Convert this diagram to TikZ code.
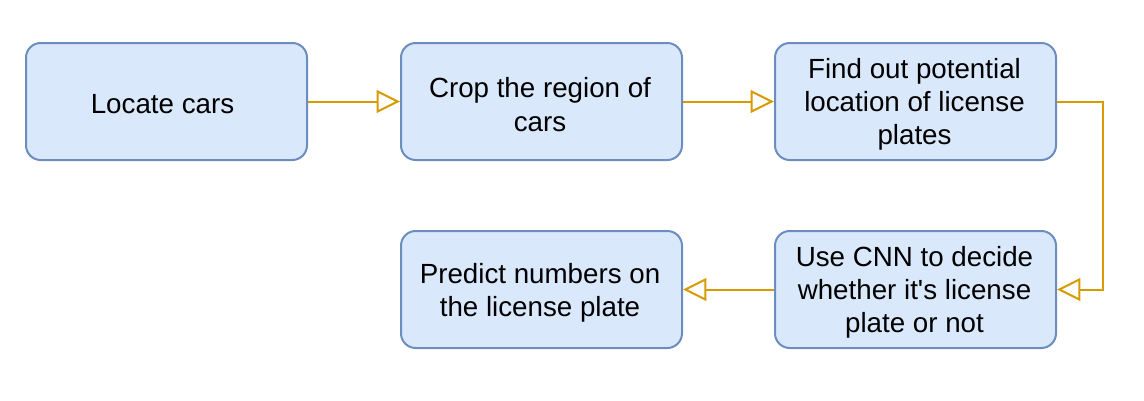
\documentclass[tikz,border=0pt]{standalone}
\usepackage{fontspec}
\setmainfont{Liberation Sans}[Ligatures=TeXOff]
\usetikzlibrary{arrows.meta}
\definecolor{boxfill}{HTML}{DAE8FC}
\definecolor{boxline}{HTML}{6C8EBF}
\definecolor{arrowc}{HTML}{D79B00}
\begin{document}
\begin{tikzpicture}[x=0.75pt,y=-0.75pt,
  stepbox/.style={draw=boxline,fill=boxfill,line width=1.5pt,rounded corners=11pt,
    minimum width=281*0.75pt,minimum height=117*0.75pt,inner sep=0pt},
  txt/.style={inner sep=0pt,align=center,font=\fontsize{20.8pt}{24.9pt}\selectfont,text=black},
  flow/.style={draw=arrowc,line width=1.5pt,
    -{Triangle[open,length=17.5pt,width=17pt,line width=1.5pt]}}]
\useasboundingbox (0,0) rectangle (1144,400);
\node[stepbox] (a) at (166.5,101.5) {};
\node[stepbox] (b) at (541.5,101.5) {};
\node[stepbox] (c) at (915.5,101.5) {};
\node[stepbox] (d) at (915.5,289.5) {};
\node[stepbox] (e) at (541.5,289.5) {};
\node[txt] (ta) at ([shift={(-4,3)}]a.center) {Locate cars};
\node[txt] (tb) at ([shift={(-1.5,3)}]b.center) {Crop the region of\\cars};
\node[txt] (tc) at ([shift={(-1,3)}]c.center) {Find out potential\\location of license\\plates};
\node[txt] (td) at ([shift={(-1,3)}]d.center) {Use CNN to decide\\whether it's license\\plate or not};
\node[txt] (te) at ([shift={(-1.5,3)}]e.center) {Predict numbers on\\the license plate};
\coordinate (r1) at (1103,101.5);
\coordinate (r2) at (1103,289.5);
\draw[flow] (a) -- (b);
\draw[flow] (b) -- (c);
\draw[flow] (c.east) -- (r1) -- (r2) -- (d.east);
\draw[flow] (d) -- (e);
\end{tikzpicture}
\end{document}
